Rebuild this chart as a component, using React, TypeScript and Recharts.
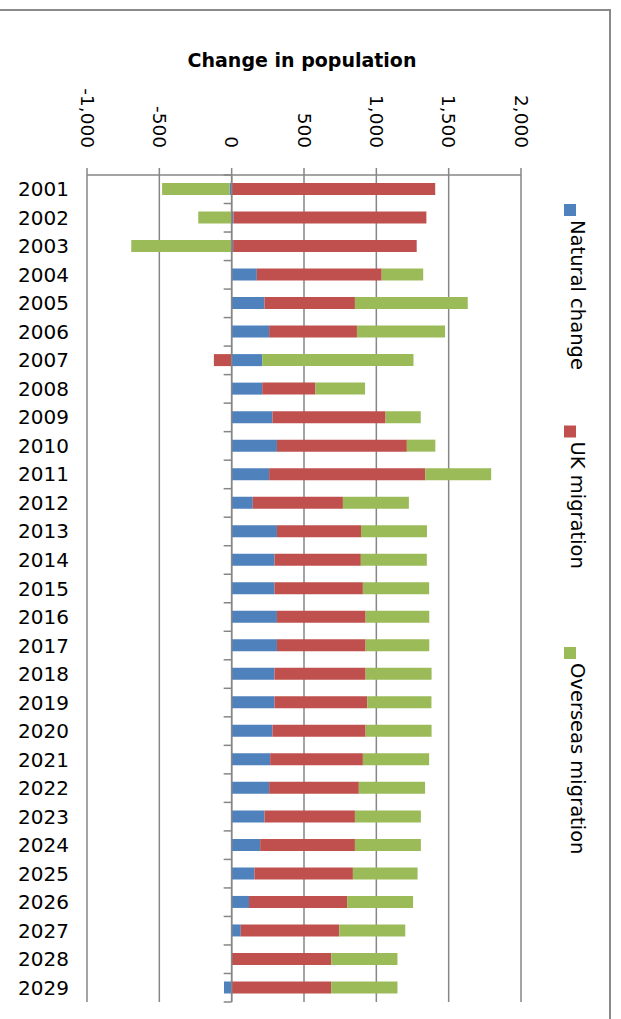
import React from 'react';
import { BarChart, Bar, XAxis, YAxis, CartesianGrid, ReferenceLine, Legend } from 'recharts';

// Annual components of population change (thousands)
const years = [
  '2001', '2002', '2003', '2004', '2005', '2006', '2007', '2008', '2009', '2010',
  '2011', '2012', '2013', '2014', '2015', '2016', '2017', '2018', '2019', '2020',
  '2021', '2022', '2023', '2024', '2025', '2026', '2027', '2028', '2029',
];
const naturalChange = [
  -15, 12, 10, 174, 227, 259, 211, 211, 282, 313,
  259, 146, 313, 296, 296, 313, 313, 296, 296, 282,
  266, 259, 227, 197, 157, 120, 63, 0, -53,
];
const ukMigration = [
  1407, 1334, 1269, 863, 625, 607, -123, 368, 782, 898,
  1079, 623, 581, 597, 611, 613, 613, 630, 641, 644,
  641, 620, 625, 655, 681, 678, 681, 688, 688,
];
const overseasMigration = [
  -466, -231, -694, 287, 780, 609, 1046, 343, 243, 197,
  456, 456, 456, 456, 458, 440, 440, 456, 444, 456,
  458, 458, 456, 456, 447, 456, 456, 458, 458,
];
const valueTicks = [-1000, -500, 0, 500, 1000, 1500, 2000];
const seriesNames = ['Natural change', 'UK migration', 'Overseas migration'];
const seriesColors = ['#4F81BD', '#C0504D', '#9BBB59'];

const data = years.map((year, i) => ({
  year,
  natural: naturalChange[i],
  uk: ukMigration[i],
  overseas: overseasMigration[i],
}));

// Geometry
const W = 621;
const H = 1019;
const MARGIN = { top: 100, right: 100, bottom: 17, left: 0 };
const X_AXIS_H = 75;
const Y_AXIS_W = 87;
const PLOT_LEFT = MARGIN.left + Y_AXIS_W;
const PLOT_TOP = MARGIN.top + X_AXIS_H;
const PLOT_W = W - PLOT_LEFT - MARGIN.right;
const PLOT_H = H - PLOT_TOP - MARGIN.bottom;
const DOMAIN: [number, number] = [valueTicks[0], valueTicks[valueTicks.length - 1]];
const ZERO_X = PLOT_LEFT + ((0 - DOMAIN[0]) / (DOMAIN[1] - DOMAIN[0])) * PLOT_W;
const BAND = PLOT_H / years.length;
const GRID = '#868686';
const FONT = '"DejaVu Sans", Verdana, sans-serif';

const fmt = (v: number) => v.toLocaleString('en-US');

const ValueTick = (props: any) => {
  const { x, payload } = props;
  return (
    <text
      x={0}
      y={0}
      transform={`translate(${x},${PLOT_TOP - 27}) rotate(90)`}
      textAnchor="end"
      dominantBaseline="central"
      fontFamily={FONT}
      fontSize={18.5}
      fill="#000"
    >
      {fmt(payload.value)}
    </text>
  );
};

const YearTick = (props: any) => {
  const { y, payload, index } = props;
  return (
    <g>
      <text
        x={69}
        y={y}
        textAnchor="end"
        dominantBaseline="central"
        fontFamily={FONT}
        fontSize={20}
        fill="#000"
      >
        {payload.value}
      </text>
      {index === 0 && (
        <line x1={ZERO_X - 8} x2={ZERO_X} y1={y - BAND / 2} y2={y - BAND / 2} stroke={GRID} strokeWidth={1.5} />
      )}
      <line x1={ZERO_X - 8} x2={ZERO_X} y1={y + BAND / 2} y2={y + BAND / 2} stroke={GRID} strokeWidth={1.5} />
    </g>
  );
};

const RotatedLegend = (props: any) => {
  const entries = [...(props.payload || [])].sort(
    (a: any, b: any) => seriesNames.indexOf(a.value) - seriesNames.indexOf(b.value),
  );
  return (
    <svg width={W} height={H} style={{ position: 'absolute', left: 0, top: 0 }}>
      {entries.map((entry: any, i: number) => {
        const top = 204 + i * 221.5;
        return (
          <g key={entry.value}>
            <rect x={564} y={top} width={12} height={12} fill={entry.color} />
            <text
              x={0}
              y={0}
              transform={`translate(577,${top + 16}) rotate(90)`}
              textAnchor="start"
              dominantBaseline="central"
              fontFamily={FONT}
              fontSize={19.5}
              fill="#000"
            >
              {entry.value}
            </text>
          </g>
        );
      })}
    </svg>
  );
};

export default function App() {
  return (
    <div style={{ position: 'absolute', left: 0, top: 0, width: W, height: H, background: '#fff', overflow: 'hidden' }}>
      <div
        style={{
          position: 'absolute',
          left: -3,
          top: 9,
          width: 614,
          height: 1100,
          border: '2px solid #8a8a8a',
          boxSizing: 'border-box',
        }}
      />
      <div
        style={{
          position: 'absolute',
          left: 0,
          width: 604,
          top: 49,
          textAlign: 'center',
          fontFamily: FONT,
          fontWeight: 'bold',
          fontSize: 19,
          color: '#000',
        }}
      >
        Change in population
      </div>
      <div style={{ position: 'absolute', left: 0, top: 0 }}>
        <BarChart
          width={W}
          height={H}
          data={data}
          layout="vertical"
          stackOffset="sign"
          margin={MARGIN}
          barSize={12}
        >
          <CartesianGrid horizontal={false} vertical stroke={GRID} strokeWidth={1.5} />
          <XAxis
            type="number"
            orientation="top"
            domain={DOMAIN}
            ticks={valueTicks}
            interval={0}
            height={X_AXIS_H}
            tick={<ValueTick />}
            tickLine={{ stroke: GRID, strokeWidth: 1.5 }}
            tickSize={7}
            axisLine={{ stroke: GRID, strokeWidth: 1.5 }}
            allowDataOverflow
          />
          <YAxis
            type="category"
            dataKey="year"
            width={Y_AXIS_W}
            interval={0}
            tick={<YearTick />}
            tickLine={false}
            axisLine={false}
          />
          <ReferenceLine x={0} stroke={GRID} strokeWidth={1.5} />
          <Legend
            layout="horizontal"
            verticalAlign="middle"
            align="center"
            content={<RotatedLegend />}
            wrapperStyle={{ position: 'absolute', left: 0, top: 0, width: W, height: H, pointerEvents: 'none' }}
          />
          <Bar dataKey="natural" name={seriesNames[0]} stackId="pop" fill={seriesColors[0]} isAnimationActive={false} />
          <Bar dataKey="uk" name={seriesNames[1]} stackId="pop" fill={seriesColors[1]} isAnimationActive={false} />
          <Bar dataKey="overseas" name={seriesNames[2]} stackId="pop" fill={seriesColors[2]} isAnimationActive={false} />
        </BarChart>
      </div>
    </div>
  );
}
